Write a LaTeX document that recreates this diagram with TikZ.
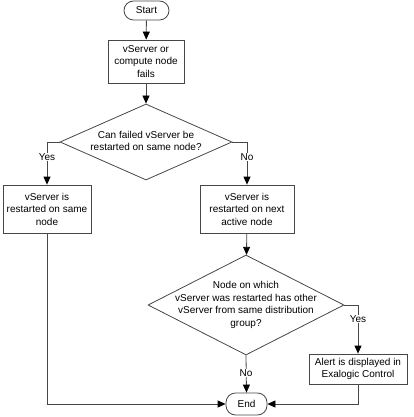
\documentclass[tikz,border=0pt]{standalone}
\usepackage{fontspec}
\setmainfont{Liberation Sans}
\usetikzlibrary{arrows.meta,shapes.geometric}
\begin{document}
\begin{tikzpicture}[x=1pt,y=-1pt,
  line/.style={draw=black!72, line width=0.8pt},
  arr/.style={line, -{Triangle[length=8pt,width=7pt,color=black]}},
  term/.style={line, rounded corners=9.5pt, inner sep=0pt, align=center, font=\fontsize{10}{12.5}\selectfont},
  procbox/.style={line, fill=white, inner sep=0pt, align=center, font=\fontsize{10}{12.5}\selectfont},
  decision/.style={line, diamond, inner sep=0pt},
  dtext/.style={inner sep=0pt, align=center, font=\fontsize{10}{12.8}\selectfont},
  lbl/.style={fill=white, inner sep=1pt, font=\fontsize{10}{12}\selectfont}
]
\useasboundingbox (0,0) rectangle (413,417);
\node[term, minimum width=45pt, minimum height=19pt] (start) at (146.5,10.5) {Start};
\node[procbox, minimum width=76pt, minimum height=43pt] (b1) at (146,61.5) {vServer or\\compute node\\fails};
\node[decision, minimum width=172pt, minimum height=76pt] (d1) at (146,142) {};
\node[dtext] (d1t) at (146,141) {Can failed vServer be\\restarted on same node?};
\node[procbox, minimum width=88pt, minimum height=48pt] (b2) at (47,209) {vServer is\\restarted on same\\node};
\node[procbox, minimum width=94pt, minimum height=48pt] (b3) at (247,209) {vServer is\\restarted on next\\active node};
\node[decision, minimum width=196pt, minimum height=100pt] (d2) at (246,305) {};
\node[dtext] (d2t) at (246,305) {Node on which\\vServer was restarted has other\\vServer from same distribution\\group?};
\node[procbox, minimum width=98pt, minimum height=30pt] (b4) at (358,369) {Alert is displayed in\\Exalogic Control};
\node[term, minimum width=41pt, minimum height=22pt] (end) at (246.5,404) {End};

\coordinate (c1) at (47,142);
\coordinate (c2) at (247,142);
\coordinate (c3) at (358,305);
\coordinate (c4) at (47,404);
\coordinate (c5) at (358,404);

\draw[arr] (start) -- (b1);
\draw[arr] (b1) -- (d1);
\draw[arr] (d1.west) -- (c1) -- (b2.north);
\draw[arr] (d1.east) -- (c2) -- (b3.north);
\draw[arr] (b3) -- (d2);
\draw[arr] (d2.east) -- (c3) -- (b4.north);
\draw[arr] (d2.south) -- (end.north);
\draw[arr] (b2.south) -- (c4) -- (end.west);
\draw[arr] (b4.south) -- (c5) -- (end.east);

\node[lbl] (l1) at (47,157) {Yes};
\node[lbl] (l2) at (247,157) {No};
\node[lbl] (l3) at (358,319) {Yes};
\node[lbl] (l4) at (246,373) {No};
\end{tikzpicture}
\end{document}
